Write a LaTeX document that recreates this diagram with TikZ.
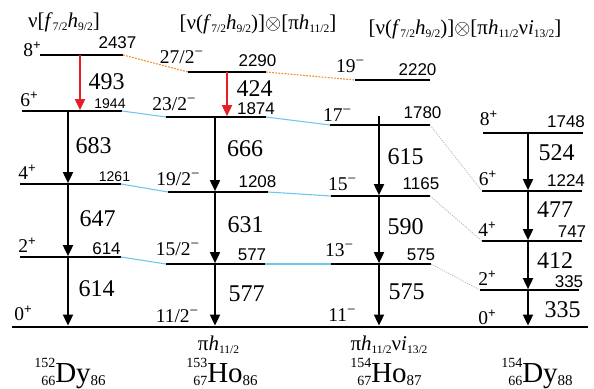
\documentclass[tikz,border=0pt]{standalone}
\usepackage{fontspec}
\setmainfont{Liberation Serif}
\setsansfont{Liberation Sans}
\usetikzlibrary{arrows.meta}
\definecolor{lsRed}{RGB}{232,30,38}
\definecolor{lsOrange}{RGB}{242,140,40}
\definecolor{lsCyan}{RGB}{110,200,238}
\definecolor{lsGray}{RGB}{185,185,185}
\tikzset{
  lvl/.style={fill=black,inner sep=0pt,outer sep=0pt,minimum height=1.7pt,minimum width=100pt},
  gnd/.style={fill=black,inner sep=0pt,outer sep=0pt,minimum height=2.8pt,minimum width=576pt},
  gam/.style={-{Triangle[length=11pt,width=10pt]},line width=1.8pt,draw=black},
  gamred/.style={gam,draw=lsRed},
  lnkorange/.style={draw=lsOrange,line width=1.1pt,dash pattern=on 1.8pt off 1.3pt},
  lnkcyan/.style={draw=lsCyan,line width=1.1pt},
  lnkgray/.style={draw=lsGray,line width=0.8pt,dash pattern=on 1.2pt off 1.2pt},
  spin/.style={font=\fontsize{19.5}{21}\selectfont,inner sep=0pt},
  eng/.style={font=\sffamily\fontsize{17}{19}\selectfont,inner sep=0pt},
  engsmall/.style={font=\sffamily\fontsize{14}{16}\selectfont,inner sep=0pt},
  trans/.style={font=\fontsize{24}{26}\selectfont,inner sep=0pt},
  conf/.style={font=\fontsize{21}{23}\selectfont,inner sep=0pt},
  nuc/.style={font=\fontsize{29}{31}\selectfont,inner sep=0pt,anchor=base},
}
\newcommand{\sbs}[1]{\raisebox{-3pt}{\fontsize{11.5}{12}\selectfont #1}}
\newcommand{\pls}{\raisebox{7pt}{\sffamily\fontsize{13}{13}\selectfont +}}
\newcommand{\mns}{\raisebox{7pt}{\fontsize{15}{15}\selectfont −}}
\newcommand{\Nucl}[4]{{\fontsize{14}{14}\selectfont\raisebox{15pt}{#1}\llap{\raisebox{-3.5pt}{#2}}}#3{\fontsize{15}{15}\selectfont\raisebox{-3.5pt}{#4}}}

\begin{document}
\begin{tikzpicture}[x=1pt,y=-1pt]
% Picture is 594 x 388, y grows downwards.
\useasboundingbox (0,0) rectangle (594,388);

% Levels: 152Dy, 153Ho, 154Ho, 154Dy and the common ground line.
\node[lvl,minimum width=83pt] (a8) at (81.5,55) {};
\node[lvl] (a6) at (72,111) {};
\node[lvl,minimum width=101pt] (a4) at (70.5,184) {};
\node[lvl,minimum width=101pt] (a2) at (70.5,257) {};

\node[lvl,minimum width=78pt] (b27) at (227,72) {};
\node[lvl] (b23) at (216,117) {};
\node[lvl] (b19) at (218,192) {};
\node[lvl,minimum width=99pt] (b15) at (215.5,264) {};

\node[lvl,minimum width=75pt] (c19) at (392.5,80) {};
\node[lvl] (c17) at (380,125) {};
\node[lvl,minimum width=99pt] (c15) at (380.5,196) {};
\node[lvl] (c13) at (381,264) {};

\node[lvl] (d8) at (533,133) {};
\node[lvl] (d6) at (532,191) {};
\node[lvl] (d4) at (532,241) {};
\node[lvl,minimum width=99pt] (d2) at (529.5,290) {};

\node[gnd] (g) at (300,327) {};

% Links between the corresponding levels
\draw[lnkorange] (a8.east) -- (b27.west);
\draw[lnkorange] (b27.east) -- (c19.west);
\draw[lnkcyan] (a6.east) -- (b23.west);
\draw[lnkcyan] (b23.east) -- (c17.west);
\draw[lnkcyan] (a4.east) -- (b19.west);
\draw[lnkcyan] (b19.east) -- (c15.west);
\draw[lnkcyan] (a2.east) -- (b15.west);
\draw[lnkcyan] (b15.east) -- (c13.west);
\draw[lnkgray] (c17.east) -- (d6.west);
\draw[lnkgray] (c15.east) -- (d4.west);
\draw[lnkgray] (c13.east) -- (d2.west);

% Gamma transitions
\coordinate (xa) at (68,0);
\coordinate (xar) at (80,0);
\coordinate (xb) at (215,0);
\coordinate (xbr) at (227,0);
\coordinate (c17t) at (379,116);
\coordinate (xd) at (528,0);

\draw[gamred] (a8 -| xar) -- (a6.north -| xar);
\draw[gam] (a6 -| xa) -- (a4.north -| xa);
\draw[gam] (a4 -| xa) -- (a2.north -| xa);
\draw[gam] (a2 -| xa) -- (g.north -| xa);

\draw[gamred] (b27 -| xbr) -- (b23.north -| xbr);
\draw[gam] (b23 -| xb) -- (b19.north -| xb);
\draw[gam] (b19 -| xb) -- (b15.north -| xb);
\draw[gam] (b15 -| xb) -- (g.north -| xb);

\draw[gam] (c17t) -- (c15.north -| c17t);
\draw[gam] (c15 -| c17t) -- (c13.north -| c17t);
\draw[gam] (c13 -| c17t) -- (g.north -| c17t);

\draw[gam] (d8 -| xd) -- (d6.north -| xd);
\draw[gam] (d6 -| xd) -- (d4.north -| xd);
\draw[gam] (d4 -| xd) -- (d2.north -| xd);
\draw[gam] (d2 -| xd) -- (g.north -| xd);

% Configurations on top
\node[conf] (hA) at (64,22) {ν[\textit{f}\sbs{7/2}\textit{h}\sbs{9/2}]};
\node[conf] (hB) at (258,24) {[ν(\textit{f}\sbs{7/2}\textit{h}\sbs{9/2})]$\otimes$[π\textit{h}\sbs{11/2}]};
\node[conf] (hC) at (465,29) {[ν(\textit{f}\sbs{7/2}\textit{h}\sbs{9/2})]$\otimes$[π\textit{h}\sbs{11/2}ν\textit{i}\sbs{13/2}]};

% 152Dy labels
\node[spin] (sa8) at (32,49) {8\pls};
\node[eng] (ea8) at (117.5,43) {2437};
\node[trans] (ta8) at (106.5,81.5) {493};
\node[spin] (sa6) at (29,99) {6\pls};
\node[engsmall] (ea6) at (110,103.5) {1944};
\node[trans] (ta6) at (93.5,145.5) {683};
\node[spin] (sa4) at (27,172) {4\pls};
\node[engsmall] (ea4) at (114.5,177) {1261};
\node[trans] (ta4) at (97.5,218.5) {647};
\node[spin] (sa2) at (27,245) {2\pls};
\node[eng] (ea2) at (106.5,248.5) {614};
\node[trans] (ta2) at (96.5,288.5) {614};
\node[spin] (sa0) at (23,313.5) {0\pls};

% 153Ho labels
\node[spin] (sb27) at (181.5,57.5) {27/2\mns};
\node[eng] (eb27) at (257.5,61) {2290};
\node[trans] (tb27) at (254.5,88.5) {424};
\node[spin] (sb23) at (174,104.5) {23/2\mns};
\node[eng] (eb23) at (256,108.5) {1874};
\node[trans] (tb23) at (245,148.5) {666};
\node[spin] (sb19) at (178,179.5) {19/2\mns};
\node[eng] (eb19) at (257.5,181.5) {1208};
\node[trans] (tb19) at (245.5,224.5) {631};
\node[spin] (sb15) at (177.5,249.5) {15/2\mns};
\node[eng] (eb15) at (252,255) {577};
\node[trans] (tb15) at (246.5,293.5) {577};
\node[spin] (sb11) at (177,316.5) {11/2\mns};

% 154Ho labels
\node[spin] (sc19) at (350,66.5) {19\mns};
\node[eng] (ec19) at (417.5,70) {2220};
\node[spin] (sc17) at (337,115) {17\mns};
\node[eng] (ec17) at (422.5,113) {1780};
\node[trans] (tc17) at (405.5,156.5) {615};
\node[spin] (sc15) at (342,184.5) {15\mns};
\node[eng] (ec15) at (421,183.5) {1165};
\node[trans] (tc15) at (405.5,227) {590};
\node[spin] (sc13) at (339,250) {13\mns};
\node[eng] (ec13) at (421,255) {575};
\node[trans] (tc13) at (406.5,291.5) {575};
\node[spin] (sc11) at (342,315.5) {11\mns};

% 154Dy labels
\node[spin] (sd8) at (488.5,118.5) {8\pls};
\node[eng] (ed8) at (566,122) {1748};
\node[trans] (td8) at (556.5,152.5) {524};
\node[spin] (sd6) at (487.5,178.5) {6\pls};
\node[eng] (ed6) at (566,181) {1224};
\node[trans] (td6) at (555,209.5) {477};
\node[spin] (sd4) at (487,229.5) {4\pls};
\node[eng] (ed4) at (572,231.5) {747};
\node[trans] (td4) at (555,260.5) {412};
\node[spin] (sd2) at (487,278) {2\pls};
\node[eng] (ed2) at (569,282) {335};
\node[trans] (td2) at (562.5,310) {335};
\node[spin] (sd0) at (487,317.5) {0\pls};

% Nuclei and ground-state configurations
\node[conf] (gB) at (218.5,345) {π\textit{h}\sbs{11/2}};
\node[conf] (gC) at (389,345) {π\textit{h}\sbs{11/2}ν\textit{i}\sbs{13/2}};
\node[nuc] (nA) at (70,382) {\Nucl{152}{66}{Dy}{86}};
\node[nuc] (nB) at (222,382) {\Nucl{153}{67}{Ho}{86}};
\node[nuc] (nC) at (386,382) {\Nucl{154}{67}{Ho}{87}};
\node[nuc] (nD) at (537,382) {\Nucl{154}{66}{Dy}{88}};
\end{tikzpicture}
\end{document}
